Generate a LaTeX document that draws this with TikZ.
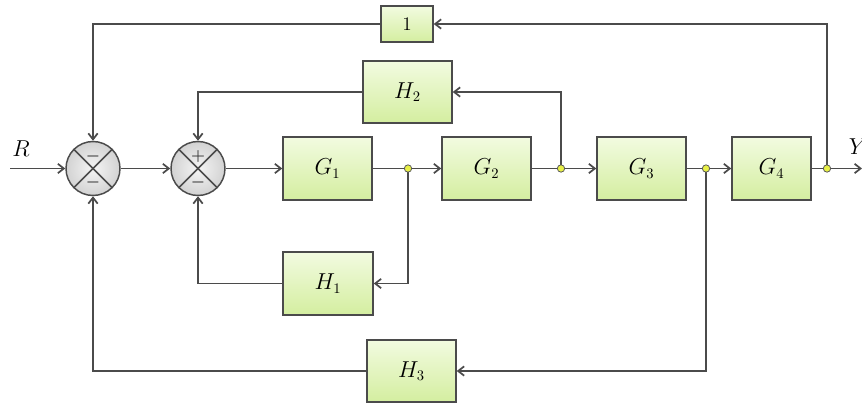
\documentclass[tikz,border=0pt]{standalone}
\usetikzlibrary{arrows.meta,calc}
\definecolor{lnc}{RGB}{75,75,75}
\definecolor{gtop}{RGB}{242,251,224}
\definecolor{gbot}{RGB}{212,238,160}
\definecolor{jfill}{RGB}{232,240,70}
\begin{document}
\begin{tikzpicture}[x=0.75pt,y=-0.75pt,
  blk/.style={draw=lnc, line width=1.1pt, top color=gtop, bottom color=gbot, inner sep=0pt,
    font=\fontsize{16}{18}\selectfont},
  sumc/.style={circle, draw=lnc, line width=1.1pt, inner color=gray!8, outer color=gray!35,
    minimum size=40.5pt, inner sep=0pt},
  conn/.style={draw=lnc, line width=1.3pt},
  arr/.style={conn, -{Straight Barb[length=4.5pt,width=7pt]}},
  jdot/.style={circle, draw=gray!70!black, fill=jfill, line width=0.6pt, minimum size=5.5pt, inner sep=0pt},
  sgn/.style={text=gray!40!black, font=\large\boldmath},
  lbl/.style={font=\fontsize{16}{18}\selectfont}]
\useasboundingbox (0,0) rectangle (862,404);
% blocks
\node[blk, minimum width=39pt, minimum height=27pt, font=\fontsize{14}{16}\selectfont] (one) at (407,24) {$1$};
\node[blk, minimum width=66.75pt, minimum height=46.5pt] (H2) at (407.5,92) {$H_2$};
\node[blk, minimum width=66.75pt, minimum height=47.25pt] (G1) at (327.5,168.5) {$G_1$};
\node[blk, minimum width=66.75pt, minimum height=47.25pt] (G2) at (486.5,168.5) {$G_2$};
\node[blk, minimum width=66.75pt, minimum height=47.25pt] (G3) at (641.5,168.5) {$G_3$};
\node[blk, minimum width=59.25pt, minimum height=47.25pt] (G4) at (771.5,168.5) {$G_4$};
\node[blk, minimum width=67.5pt, minimum height=47.25pt] (H1) at (328,283.5) {$H_1$};
\node[blk, minimum width=66.75pt, minimum height=46.5pt] (H3) at (411.5,371) {$H_3$};
% summing junctions
\node[sumc] (S1) at (93,168.5) {};
\node[sumc] (S2) at (198,168.5) {};
\foreach \s in {S1,S2}{
  \draw[lnc, line width=1.1pt] (\s.north west) -- (\s.south east);
  \draw[lnc, line width=1.1pt] (\s.north east) -- (\s.south west);
}
\node[sgn] (s1t) at (93,156) {$-$};
\node[sgn] (s1b) at (93,182) {$-$};
\node[sgn] (s2t) at (198,156) {$+$};
\node[sgn] (s2b) at (198,182) {$-$};
% junction points
\coordinate (j1) at (408,168.5);
\coordinate (j2) at (561,168.5);
\coordinate (j3) at (706,168.5);
\coordinate (j4) at (827,168.5);
\coordinate (rin) at (10,168.5);
\coordinate (yout) at (862,168.5);
% labels
\node[lbl] (R) at (21,149) {$R$};
\node[lbl] (Y) at (858,147) {$Y$};
% forward path
\draw[arr] (rin) -- (S1.west);
\draw[arr] (S1.east) -- (S2.west);
\draw[arr] (S2.east) -- (G1.west);
\draw[conn] (G1.east) -- (j1);
\draw[arr] (j1) -- (G2.west);
\draw[conn] (G2.east) -- (j2);
\draw[arr] (j2) -- (G3.west);
\draw[conn] (G3.east) -- (j3);
\draw[arr] (j3) -- (G4.west);
\draw[conn] (G4.east) -- (j4);
\draw[arr] (j4) -- (yout);
% feedback paths
\draw[arr] (j4) |- (one.east);
\draw[arr] (one.west) -| (S1.north);
\draw[arr] (j2) |- (H2.east);
\draw[arr] (H2.west) -| (S2.north);
\draw[arr] (j1) |- (H1.east);
\draw[arr] (H1.west) -| (S2.south);
\draw[arr] (j3) |- (H3.east);
\draw[arr] (H3.west) -| (S1.south);
% dots
\foreach \j in {j1,j2,j3,j4}{ \node[jdot] at (\j) {}; }
\end{tikzpicture}
\end{document}
